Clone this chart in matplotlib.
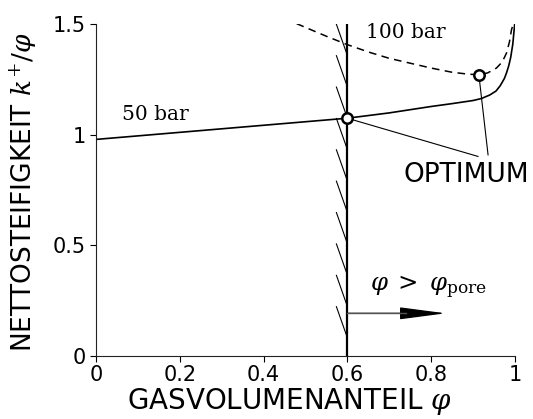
import matplotlib
matplotlib.use("Agg")
import matplotlib.pyplot as plt

plt.rcParams['font.family'] = ['DejaVu Sans']
plt.rcParams['mathtext.fontset'] = 'dejavuserif'

# Net stiffness over gas volume fraction
phi_50 = [0.0, 0.1, 0.2, 0.3, 0.4, 0.5, 0.6, 0.7, 0.8, 0.85, 0.9, 0.92, 0.94,
          0.955, 0.965, 0.975, 0.98, 0.985, 0.99, 0.995, 0.9995]
k_50 = [0.979, 0.995, 1.011, 1.027, 1.043, 1.059, 1.075, 1.099, 1.128, 1.141,
        1.155, 1.164, 1.180, 1.198, 1.222, 1.255, 1.280, 1.310, 1.350, 1.410, 1.500]

phi_100 = [0.479, 0.5, 0.55, 0.6, 0.65, 0.7, 0.75, 0.8, 0.85, 0.89, 0.914,
           0.935, 0.956, 0.97, 0.98, 0.987, 0.992, 0.996]
k_100 = [1.503, 1.486, 1.446, 1.408, 1.375, 1.346, 1.324, 1.302, 1.283, 1.274,
         1.272, 1.280, 1.302, 1.330, 1.370, 1.420, 1.476, 1.500]

phi_pore = 0.6
optimum_phi = [0.6, 0.914]
optimum_k = [1.075, 1.272]

xticks = [0, 0.2, 0.4, 0.6, 0.8, 1]
xticklabels = ["0", "0.2", "0.4", "0.6", "0.8", "1"]
yticks = [0, 0.5, 1, 1.5]
yticklabels = ["0", "0.5", "1", "1.5"]

fig = plt.figure(figsize=(5.33, 4.19), dpi=100)
ax = fig.add_axes([0.180, 0.151, 0.786, 0.791])

ax.plot(phi_50, k_50, color='black', lw=1.2)
ax.plot(phi_100, k_100, color='black', lw=1.1, ls=(0, (5, 3.5)))

# pore limit with hatching on the left side
ax.plot([phi_pore, phi_pore], [0, 1.5], color='black', lw=1.6, zorder=3)
hatch_dy = 0.142
for i in range(10):
    top = 1.5 - i * hatch_dy
    ax.plot([phi_pore - 0.026, phi_pore], [top, top - 0.14], color='black', lw=0.8)

# arrow into the region beyond the pore limit
ax.annotate("", xy=(0.835, 0.192), xytext=(phi_pore, 0.192),
            arrowprops=dict(arrowstyle='-|>,head_length=2.9,head_width=0.38',
                            mutation_scale=10, color='black', lw=0.9,
                            shrinkA=0, shrinkB=0))
ax.plot([phi_pore, 0.74], [0.192, 0.192], color='#555555', lw=1.0, zorder=4)
ax.text(0.655, 0.31, r"$\varphi\;>\;\varphi_{\mathrm{pore}}$", fontsize=17.5,
        va='center', ha='left')

# leader lines to the optimum label
ax.plot([optimum_phi[0], 0.912], [optimum_k[0], 0.902], color='black', lw=0.8)
ax.plot([optimum_phi[1], 0.936], [optimum_k[1], 0.909], color='black', lw=0.8)
ax.plot(optimum_phi, optimum_k, 'o', ms=7.5, mfc='white', mec='black', mew=1.8,
        zorder=5, clip_on=False)

ax.text(0.063, 1.09, "50 bar", family='DejaVu Serif', fontsize=14.5,
        va='center', ha='left')
ax.text(0.645, 1.461, "100 bar", family='DejaVu Serif', fontsize=14.5,
        va='center', ha='left')
ax.text(0.735, 0.816, "OPTIMUM", fontsize=19, va='center', ha='left', clip_on=False)

ax.set_xlim(0, 1)
ax.set_ylim(0, 1.5)
ax.set_xticks(xticks)
ax.set_xticklabels(xticklabels)
ax.set_yticks(yticks)
ax.set_yticklabels(yticklabels)
ax.tick_params(labelsize=15, length=4, width=0.8, colors='black', pad=3)
for s in ['top', 'right']:
    ax.spines[s].set_visible(False)
for s in ['left', 'bottom']:
    ax.spines[s].set_linewidth(0.8)
    ax.spines[s].set_color('#222222')

ax.set_xlabel(r"GASVOLUMENANTEIL $\varphi$", fontsize=20)
ax.set_ylabel(r"NETTOSTEIFIGKEIT $k^{+}/\varphi$", fontsize=19)
ax.xaxis.set_label_coords(0.463, -0.092)
ax.yaxis.set_label_coords(-0.135, 0.495)

fig.savefig("out.png", dpi=100)
